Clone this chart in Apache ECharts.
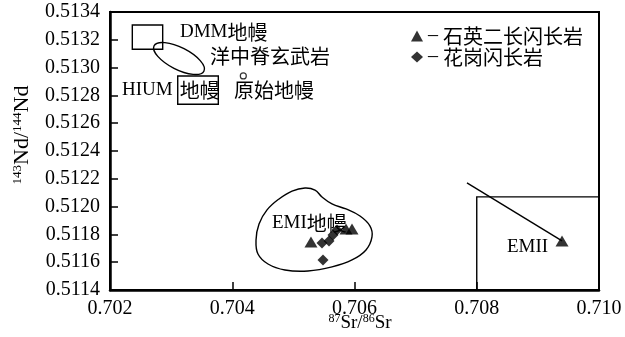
<!DOCTYPE html>
<html>
<head>
<meta charset="utf-8">
<script src="https://cdn.jsdelivr.net/npm/echarts@6/dist/echarts.min.js"></script>
<style>
  html, body { margin: 0; padding: 0; background: #fff; }
  #chart { width: 625px; height: 337px; }
</style>
</head>
<body>
<div id="chart"></div>
<script>
// Sr–Nd isotope diagram: 87Sr/86Sr (x) against 143Nd/144Nd (y)

// Axis ranges and tick steps
const srRange = [0.702, 0.710];
const srStep = 0.002;
const ndRange = [0.5114, 0.5134];
const ndStep = 0.0002;

// Quartz monzodiorite samples (triangles)
const qmdName = '石英二长闪长岩';
const qmdSr = [0.705288, 0.705861, 0.705959, 0.709395];
const qmdNd = [0.511745, 0.511839, 0.511839, 0.511753];

// Granodiorite samples (diamonds)
const grdName = '花岗闪长岩';
const grdSr = [0.705468, 0.705583, 0.705648, 0.705714, 0.705485];
const grdNd = [0.511738, 0.511753, 0.511796, 0.511832, 0.511616];

// Mantle end-member fields as [Sr min, Nd min, Sr max, Nd max]
const dmmBox = [0.702365, 0.513132, 0.702862, 0.513306];
const hiumBox = [0.703108, 0.512736, 0.703772, 0.512940];
const emiiBox = [0.708000, 0.511400, 0.710000, 0.512070];

// Primitive mantle
const primSr = [0.704181];
const primNd = [0.512940];

// MORB field outline
const morbSr = [0.703536, 0.703360, 0.703047, 0.702782, 0.702721, 0.702898, 0.703211, 0.703476];
const morbNd = [0.512974, 0.512951, 0.512995, 0.513081, 0.513157, 0.513180, 0.513136, 0.513050];

// EMI field outline
const emiSr = [0.704389, 0.704438, 0.704569, 0.704765, 0.704978, 0.705190, 0.705354, 0.705468,
               0.705632, 0.705861, 0.706090, 0.706254, 0.706286, 0.706188, 0.705959, 0.705632,
               0.705239, 0.704863, 0.704585, 0.704421];
const emiNd = [0.511760, 0.511875, 0.511976, 0.512055, 0.512112, 0.512134, 0.512119, 0.512069,
               0.512019, 0.511983, 0.511932, 0.511860, 0.511782, 0.511688, 0.511616, 0.511566,
               0.511537, 0.511544, 0.511587, 0.511659];

// Trend towards EMII
const trendSr = [0.707840, 0.709395];
const trendNd = [0.512170, 0.511753];

// Field names
const fieldTexts = ['{l|DMM}{c|地幔}', '{c|洋中脊玄武岩}', '{l|HIUM}', '{c|地幔}', '{c|原始地幔}', '{l|EMI}{c|地幔}', '{l|EMII}'];

// Anchor (left, middle) of each field name in data units
const fieldAnchors = [
  [0.703145, 0.513256],
  [0.703636, 0.513083],
  [0.702196, 0.512839],
  [0.703140, 0.512839],
  [0.704029, 0.512839],
  [0.704650, 0.511882],
  [0.708495, 0.511709]
];

const LATIN = 'Liberation Serif';
const CJK = 'Noto Sans CJK SC';
const INK = '#000';

const richText = {
  l: { fontFamily: LATIN, fontSize: 19, color: INK },
  c: { fontFamily: CJK, fontSize: 20, color: INK }
};

const pairs = (a, b) => a.map((v, i) => [v, b[i]]);

function boxSeries(name, box) {
  return {
    type: 'custom', name, silent: true, z: 3,
    data: [box],
    encode: { x: [0, 2], y: [1, 3] },
    renderItem(params, api) {
      const p1 = api.coord([api.value(0), api.value(1)]);
      const p2 = api.coord([api.value(2), api.value(3)]);
      return {
        type: 'rect',
        shape: {
          x: Math.min(p1[0], p2[0]), y: Math.min(p1[1], p2[1]),
          width: Math.abs(p2[0] - p1[0]), height: Math.abs(p2[1] - p1[1])
        },
        style: { fill: 'none', stroke: INK, lineWidth: 1.4 }
      };
    }
  };
}

function outlineSeries(name, sr, nd, smooth) {
  return {
    type: 'custom', name, silent: true, z: 3,
    data: pairs(sr, nd),
    renderItem(params, api) {
      if (params.dataIndex !== 0) return null;
      const pts = sr.map((s, i) => api.coord([s, nd[i]]));
      return {
        type: 'polygon',
        shape: { points: pts, smooth },
        style: { fill: 'none', stroke: INK, lineWidth: 1.4 }
      };
    }
  };
}

const chart = echarts.init(document.getElementById('chart'), null, { renderer: 'canvas' });

chart.setOption({
  animation: false,
  backgroundColor: '#fff',
  grid: {
    left: 110, top: 12, right: 26, bottom: 47,
    show: true, borderColor: INK, borderWidth: 2,
    outerBoundsMode: 'none'
  },
  legend: {
    data: [
      { name: qmdName, icon: 'triangle' },
      { name: grdName, icon: 'diamond' }
    ],
    orient: 'vertical',
    left: 406, top: 21,
    itemWidth: 12, itemHeight: 11, itemGap: 1,
    selectedMode: false,
    formatter: n => '{d|–}{n|' + n + '}',
    textStyle: {
      rich: {
        d: { fontFamily: LATIN, fontSize: 20, width: 15, align: 'left', color: INK },
        n: { fontFamily: CJK, fontSize: 20, lineHeight: 20, color: INK }
      }
    }
  },
  xAxis: {
    type: 'value',
    min: srRange[0], max: srRange[1], interval: srStep,
    name: '{s|87}{n|Sr/}{s|86}{n|Sr}',
    nameLocation: 'middle', nameGap: 23, nameMoveOverlap: false,
    nameTextStyle: {
      padding: [0, 0, 0, 11],
      rich: {
        s: { fontFamily: LATIN, fontSize: 12, verticalAlign: 'top', color: INK },
        n: { fontFamily: LATIN, fontSize: 19, lineHeight: 20, color: INK }
      }
    },
    axisLine: { show: true, onZero: false, lineStyle: { color: INK, width: 2.5 } },
    axisTick: { show: true, inside: true, length: 8, lineStyle: { color: INK, width: 1.5 } },
    axisLabel: { formatter: v => v.toFixed(3), color: INK, fontFamily: LATIN, fontSize: 20, margin: 9 },
    splitLine: { show: false }
  },
  yAxis: {
    type: 'value',
    min: ndRange[0], max: ndRange[1], interval: ndStep,
    name: '{s|143}{n|Nd/}{s|144}{n|Nd}',
    nameLocation: 'middle', nameGap: 77, nameMoveOverlap: false,
    nameTextStyle: {
      padding: [0, 0, 0, 32],
      rich: {
        s: { fontFamily: LATIN, fontSize: 13, verticalAlign: 'top', color: INK },
        n: { fontFamily: LATIN, fontSize: 22, lineHeight: 22, color: INK }
      }
    },
    axisLine: { show: true, onZero: false, lineStyle: { color: INK, width: 2.5 } },
    axisTick: { show: true, inside: true, length: 8, lineStyle: { color: INK, width: 1.5 } },
    axisLabel: { formatter: v => v.toFixed(4), color: INK, fontFamily: LATIN, fontSize: 20, margin: 10 },
    splitLine: { show: false }
  },
  series: [
    boxSeries('DMM', dmmBox),
    boxSeries('HIUM', hiumBox),
    boxSeries('EMII', emiiBox),
    outlineSeries('MORB', morbSr, morbNd, 0.4),
    outlineSeries('EMI', emiSr, emiNd, 0.4),
    {
      type: 'line', name: 'trend', silent: true, z: 3,
      data: pairs(trendSr, trendNd),
      showSymbol: false, symbol: 'none',
      lineStyle: { color: INK, width: 1.4 }
    },
    {
      type: 'scatter', name: 'primitive', silent: true, z: 4,
      data: pairs(primSr, primNd),
      symbol: 'circle', symbolSize: 6,
      itemStyle: { color: '#fff', borderColor: INK, borderWidth: 1.2 }
    },
    {
      type: 'scatter', name: qmdName, z: 5,
      data: pairs(qmdSr, qmdNd),
      symbol: 'triangle', symbolSize: [13, 11],
      itemStyle: { color: INK }
    },
    {
      type: 'scatter', name: grdName, z: 5,
      data: pairs(grdSr, grdNd),
      symbol: 'diamond', symbolSize: 11,
      itemStyle: { color: INK }
    },
    {
      type: 'custom', name: 'fields', silent: true, z: 6,
      data: fieldAnchors,
      renderItem(params, api) {
        const p = api.coord([api.value(0), api.value(1)]);
        return {
          type: 'text',
          x: p[0], y: p[1],
          style: {
            text: fieldTexts[params.dataIndex],
            rich: richText,
            align: 'left', verticalAlign: 'middle'
          }
        };
      }
    }
  ]
});
</script>
</body>
</html>
